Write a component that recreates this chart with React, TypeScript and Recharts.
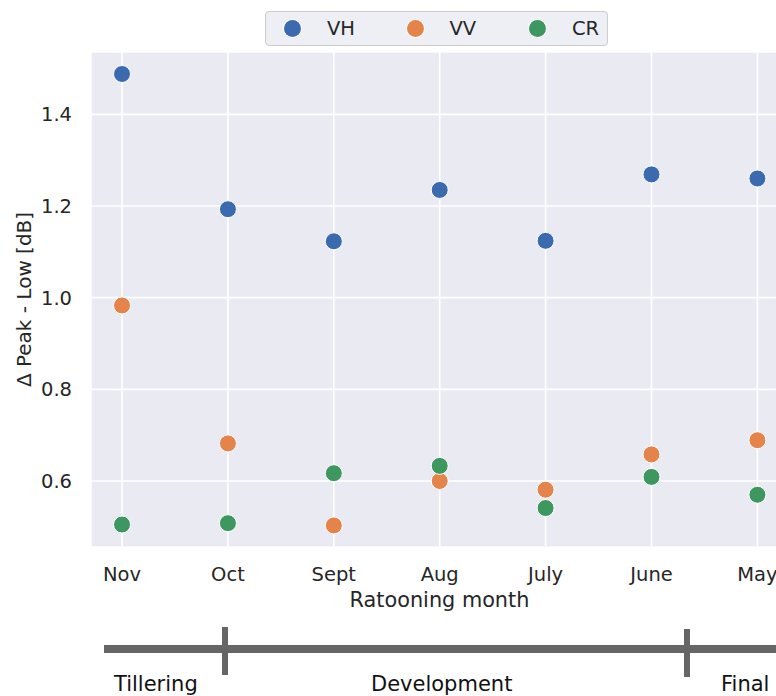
import React from "react";
import { CartesianGrid, Scatter, ScatterChart, XAxis, YAxis } from "recharts";

const months = ["Nov", "Oct", "Sept", "Aug", "July", "June", "May"];
const vh = [1.488, 1.193, 1.123, 1.235, 1.124, 1.269, 1.26];
const vv = [0.983, 0.682, 0.503, 0.6, 0.581, 0.658, 0.689];
const cr = [0.505, 0.508, 0.617, 0.633, 0.541, 0.609, 0.57];
const yTicks = [0.6, 0.8, 1.0, 1.2, 1.4];
const phases = ["Tillering", "Development", "Final"];

const series = [
  { name: "VH", values: vh, color: "#3b6aaf" },
  { name: "VV", values: vv, color: "#e4844a" },
  { name: "CR", values: cr, color: "#3d975f" },
];

const FONT = "'DejaVu Sans', sans-serif";
const TEXT = "#262626";

function Dot(color: string) {
  return (p: any) => <circle cx={p.cx} cy={p.cy} r={8.5} fill={color} stroke="#fff" strokeWidth={1} />;
}

export default function App() {
  return (
    <div style={{ position: "absolute", left: 0, top: 0, width: 776, height: 696, overflow: "hidden", background: "#fff", fontFamily: FONT }}>
      <ScatterChart width={800} height={617} margin={{ top: 52, right: 12, bottom: 0, left: 0 }}>
        <CartesianGrid fill="#eaeaf2" stroke="#fff" strokeWidth={1.6} />
        <XAxis
          type="number"
          dataKey="x"
          domain={[-0.293, 6.289]}
          ticks={[0, 1, 2, 3, 4, 5, 6]}
          interval={0}
          allowDataOverflow
          tickFormatter={(i: number) => months[i]}
          axisLine={false}
          tickLine={false}
          tickSize={0}
          tickMargin={20}
          height={70}
          tick={{ fill: TEXT, fontSize: 19.5, fontFamily: FONT }}
          label={{
            content: (p: any) => (
              <text x={p.viewBox.x + p.viewBox.width / 2} y={p.viewBox.y + 60} textAnchor="middle" fill={TEXT} fontSize={20.8} fontFamily={FONT}>
                Ratooning month
              </text>
            ),
          }}
        />
        <YAxis
          type="number"
          dataKey="y"
          domain={[0.456, 1.536]}
          ticks={yTicks}
          allowDataOverflow
          tickFormatter={(v: number) => v.toFixed(1)}
          axisLine={false}
          tickLine={false}
          tickSize={0}
          tickMargin={19}
          width={91}
          tick={{ fill: TEXT, fontSize: 19.5, fontFamily: FONT }}
          label={{
            content: (p: any) => {
              const cy = p.viewBox.y + p.viewBox.height / 2;
              return (
                <text x={31} y={cy} transform={`rotate(-90, 31, ${cy})`} textAnchor="middle" fill={TEXT} fontSize={20} fontFamily={FONT}>
                  Δ Peak - Low [dB]
                </text>
              );
            },
          }}
        />
        {series.map((s) => (
          <Scatter
            key={s.name}
            name={s.name}
            data={s.values.map((v, i) => ({ x: i, y: v }))}
            fill={s.color}
            shape={Dot(s.color)}
            isAnimationActive={false}
          />
        ))}
      </ScatterChart>

      {/* legend box */}
      <div
        style={{
          position: "absolute", left: 265, top: 11, width: 341, height: 33,
          background: "rgba(234,234,242,0.8)", border: "1px solid #cccccc", borderRadius: 4,
        }}
      >
        {series.map((s, i) => (
          <div key={s.name} style={{ position: "absolute", left: 18 + i * 122.5, top: 0, height: 33, display: "flex", alignItems: "center" }}>
            <span style={{ display: "inline-block", width: 17, height: 17, borderRadius: "50%", background: s.color, boxShadow: "0 0 0 1px #fff" }} />
            <span style={{ marginLeft: 26, fontSize: 19.5, color: TEXT }}>{s.name}</span>
          </div>
        ))}
      </div>

      {/* growth phase timeline */}
      <svg width={776} height={80} style={{ position: "absolute", left: 0, top: 616 }}>
        <line x1={104} x2={776} y1={33} y2={33} stroke="#666" strokeWidth={8} />
        <line x1={225} x2={225} y1={11} y2={59} stroke="#666" strokeWidth={6} />
        <line x1={687} x2={687} y1={13} y2={61} stroke="#666" strokeWidth={6} />
        {phases.map((t, i) => (
          <text key={t} x={[114, 371, 721][i]} y={75} fill="#111" fontSize={21} fontFamily={FONT}>
            {t}
          </text>
        ))}
      </svg>
    </div>
  );
}
